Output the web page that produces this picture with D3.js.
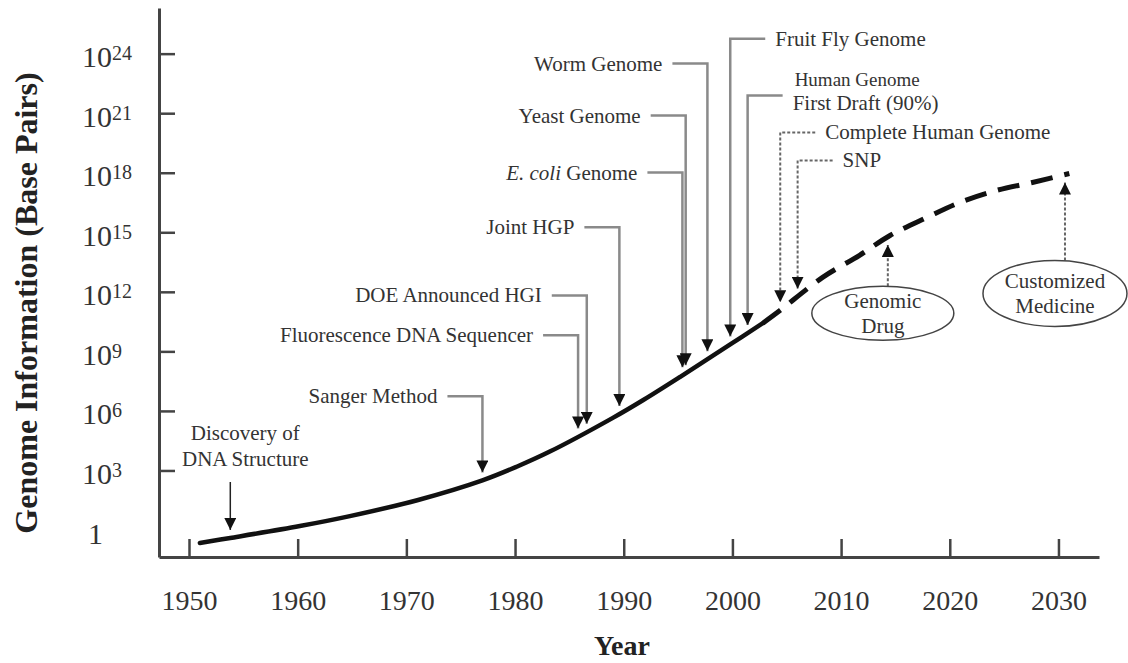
<!DOCTYPE html>
<html>
<head>
<meta charset="utf-8">
<script src="https://cdn.jsdelivr.net/npm/d3@7"></script>
<style>
  body { margin: 0; background: #fff; }
  svg { display: block; font-family: 'Liberation Serif', 'Times New Roman', serif; }
</style>
</head>
<body>
<svg id="chart" width="1128" height="663"></svg>
<script>
// curve values, log10 of base pairs
var years = [1951, 1953.8, 1960.2, 1964.8, 1971, 1977, 1980.2, 1983.2, 1989, 1991.8, 1995.2, 1999.8, 2002.8];
var logBp = [-0.65, -0.4, 0.2, 0.7, 1.5, 2.5, 3.2, 3.95, 5.65, 6.55, 7.72, 9.35, 10.42];
var projYears = [2002.8, 2004.4, 2008.3, 2011.7, 2014.5, 2017.9, 2020.9, 2024.3, 2027.6, 2031];
var projLogBp = [10.42, 11.07, 12.73, 13.84, 14.84, 15.75, 16.5, 17.11, 17.51, 17.96];

var xTicks = [1950, 1960, 1970, 1980, 1990, 2000, 2010, 2020, 2030];
var yTicks = [0, 3, 6, 9, 12, 15, 18, 21, 24];

// milestones pointing down at the curve
var eventLabels = ['Sanger Method', 'Fluorescence DNA Sequencer', 'DOE Announced HGI', 'Joint HGP',
  'E. coli Genome', 'Yeast Genome', 'Worm Genome', 'Fruit Fly Genome',
  'Human Genome|First Draft (90%)', 'Complete Human Genome', 'SNP'];
var eventYears = [1977, 1985.8, 1986.6, 1989.6, 1995.4, 1995.7, 1997.7, 1999.8, 2001.4, 2004.4, 2006.0];
var eventLevels = [6.74, 9.81, 11.82, 15.25, 18.01, 20.88, 23.5, 24.75, 21.89, 20.03, 18.62];

// future items pointing up at the curve
var futureLabels = ['Genomic|Drug', 'Customized|Medicine'];
var futureYears = [2014.3, 2030.6];
var futureLevels = [10.92, 11.92];

var svg = d3.select('#chart');
var plotL = 159, plotR = 1099, plotT = 8, plotB = 557;
var ink = '#333', grey = '#8a8a8a';

var x = d3.scaleLinear().domain([1947.24, 2033.73]).range([plotL, plotR]);
var y = d3.scaleLinear().domain([-1.36, 26.3]).range([plotB, plotT]);

// piecewise curve lookup for arrow tips
var allYears = years.concat(projYears.slice(1));
var allLog = logBp.concat(projLogBp.slice(1));
var curveAt = d3.scaleLinear().domain(allYears).range(allLog);

// arrowhead
svg.append('defs').append('marker')
  .attr('id', 'head')
  .attr('viewBox', '0 0 12 12')
  .attr('refX', 12).attr('refY', 6)
  .attr('markerWidth', 12).attr('markerHeight', 12)
  .attr('markerUnits', 'userSpaceOnUse')
  .attr('orient', 'auto')
  .append('path')
  .attr('d', 'M0,0 L12,6 L0,12 Z')
  .attr('fill', '#111');

// X axis
var xAxis = svg.append('g')
  .attr('transform', 'translate(0,' + plotB + ')')
  .call(d3.axisBottom(x).tickValues(xTicks).tickSize(-18).tickSizeOuter(0).tickFormat(d3.format('d')));
xAxis.select('.domain').attr('stroke', '#444').attr('stroke-width', 3);
xAxis.selectAll('.tick line').attr('stroke', '#444').attr('stroke-width', 2.5);
xAxis.selectAll('.tick text')
  .attr('y', 53).attr('dy', 0)
  .style('font-size', '28px')
  .style('font-family', "'Liberation Serif', serif")
  .attr('fill', ink);

// Y axis
var yAxis = svg.append('g')
  .attr('transform', 'translate(' + plotL + ',0)')
  .call(d3.axisLeft(y).tickValues(yTicks).tickSize(-16).tickSizeOuter(0));
yAxis.select('.domain').attr('stroke', '#444').attr('stroke-width', 3);
yAxis.selectAll('.tick line').attr('stroke', '#444').attr('stroke-width', 2.5)
  .attr('opacity', function(d) { return d === 0 ? 0 : 1; });
yAxis.selectAll('.tick text').each(function(d) {
  var t = d3.select(this).text('')
    .attr('x', d === 0 ? -71 : -77).attr('dy', 13)
    .attr('text-anchor', 'start')
    .attr('fill', ink)
    .style('font-family', "'Liberation Serif', serif")
    .style('font-size', '30px');
  if (d === 0) { t.text('1'); return; }
  t.append('tspan').text('10');
  t.append('tspan').attr('dy', -7).style('font-size', '20px').text(d);
});

// axis titles
svg.append('text')
  .attr('transform', 'translate(37,303) rotate(-90)')
  .attr('text-anchor', 'middle')
  .style('font-size', '32px')
  .style('font-weight', 'bold')
  .attr('fill', '#222')
  .text('Genome Information (Base Pairs)');

svg.append('text')
  .attr('x', 622).attr('y', 655)
  .attr('text-anchor', 'middle')
  .style('font-size', '28px')
  .style('font-weight', 'bold')
  .attr('fill', '#222')
  .text('Year');

// curve
var line = d3.line()
  .x(function(d) { return x(d[0]); })
  .y(function(d) { return y(d[1]); })
  .curve(d3.curveCatmullRom.alpha(0.5));

svg.append('path')
  .datum(d3.zip(years, logBp))
  .attr('d', line)
  .attr('fill', 'none')
  .attr('stroke', '#111')
  .attr('stroke-width', 4.5)
  .attr('stroke-linecap', 'round');

svg.append('path')
  .datum(d3.zip(projYears, projLogBp))
  .attr('d', line)
  .attr('fill', 'none')
  .attr('stroke', '#111')
  .attr('stroke-width', 5)
  .attr('stroke-dasharray', '22,12');

// Discovery of DNA structure
var dnaX = x(1953.8);
svg.append('line')
  .attr('x1', dnaX).attr('x2', dnaX)
  .attr('y1', 482).attr('y2', y(curveAt(1953.8)) - 8)
  .attr('stroke', '#222').attr('stroke-width', 1.5)
  .attr('marker-end', 'url(#head)');
svg.append('text')
  .attr('text-anchor', 'middle')
  .style('font-size', '21px').attr('fill', ink)
  .selectAll('tspan')
  .data(['Discovery of', 'DNA Structure'])
  .enter().append('tspan')
  .attr('x', dnaX + 15)
  .attr('y', function(d, i) { return 440 + i * 26; })
  .text(function(d) { return d; });

// milestone elbows
var arm = 35, gap = 10;
eventLabels.forEach(function(lab, i) {
  var ax = x(eventYears[i]);
  var ly = y(eventLevels[i]);
  var tip = y(curveAt(eventYears[i])) - 8;
  var onRight = i >= 7;
  var dotted = i >= 9;
  var elbowX = onRight ? ax + arm : ax - arm;

  svg.append('path')
    .attr('d', 'M' + elbowX + ',' + ly + ' H' + ax + ' V' + tip)
    .attr('fill', 'none')
    .attr('stroke', dotted ? '#666' : grey)
    .attr('stroke-width', dotted ? 2 : 2.5)
    .attr('stroke-dasharray', dotted ? '3,2' : null)
    .attr('marker-end', 'url(#head)');

  var tx = onRight ? elbowX + gap : elbowX - gap;
  var parts = lab.split('|');
  var t = svg.append('text')
    .attr('text-anchor', onRight ? 'start' : 'end')
    .style('font-size', '21px')
    .attr('fill', ink);
  if (parts.length === 2) {
    t.append('tspan').attr('x', tx + 2).attr('y', ly - 10).style('font-size', '19px').text(parts[0]);
    t.append('tspan').attr('x', tx).attr('y', ly + 14).text(parts[1]);
  } else if (lab.indexOf('E. coli') === 0) {
    t.attr('x', tx).attr('y', ly + 7);
    t.append('tspan').style('font-style', 'italic').text('E. coli');
    t.append('tspan').text(' Genome');
  } else {
    t.attr('x', tx).attr('y', ly + 7).text(lab);
  }
});

// future items in ellipses
futureLabels.forEach(function(lab, i) {
  var ax = x(futureYears[i]);
  var cy = y(futureLevels[i]);
  var ry = i ? 33 : 27, rx = i ? 72 : 71;
  var cx = ax - (i ? 10 : 5);
  var tip = y(curveAt(futureYears[i])) + 8;

  svg.append('line')
    .attr('x1', ax).attr('x2', ax)
    .attr('y1', cy - ry).attr('y2', tip)
    .attr('stroke', '#666').attr('stroke-width', 2)
    .attr('stroke-dasharray', '3,2')
    .attr('marker-end', 'url(#head)');

  svg.append('ellipse')
    .attr('cx', cx).attr('cy', cy)
    .attr('rx', rx).attr('ry', ry)
    .attr('fill', 'none')
    .attr('stroke', '#444').attr('stroke-width', 1.5);

  svg.append('text')
    .attr('text-anchor', 'middle')
    .style('font-size', '21px')
    .attr('fill', ink)
    .selectAll('tspan')
    .data(lab.split('|'))
    .enter().append('tspan')
    .attr('x', cx)
    .attr('y', function(d, k) { return cy - 5 + k * 25; })
    .text(function(d) { return d; });
});
</script>
</body>
</html>
